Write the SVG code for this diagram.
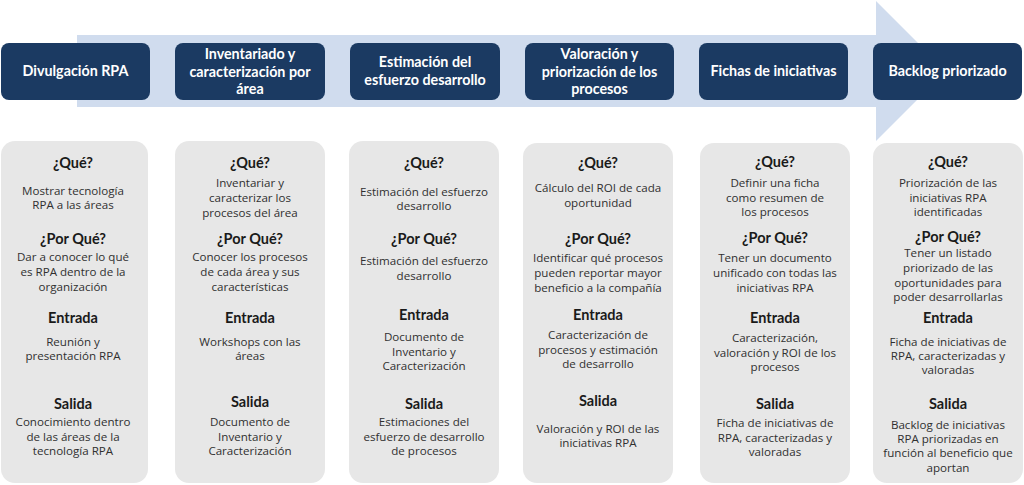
<svg xmlns="http://www.w3.org/2000/svg" width="1024" height="485" viewBox="0 0 1024 485">
<style>
.hdr{fill:#1b3a62}
.card{fill:#e7e7e7}
.ht{font-family:Lato,"Liberation Sans",sans-serif;font-weight:bold;font-size:14.3px;fill:#ffffff;text-anchor:middle}
.h{font-family:Lato,"Liberation Sans",sans-serif;font-weight:bold;font-size:14.5px;fill:#1a1a1a;text-anchor:middle}
.b{font-family:"Open Sans","Liberation Sans",sans-serif;font-size:11.6px;fill:#303030;text-anchor:middle}
</style>
<rect width="1024" height="485" fill="#ffffff"/>
<g id="arrow">
<polygon points="77,35 876,35 876,1 946,71 876,141 876,107 77,107" fill="#d0dcee"/>
</g>
<g id="connectors"></g>
<g id="step1">
<rect class="hdr" x="1" y="43" width="149" height="57" rx="8"/>
<text class="ht" x="75.5" y="76">Divulgación RPA</text>
</g>
<g id="step2">
<rect class="hdr" x="175" y="43" width="150" height="57" rx="8"/>
<text class="ht" x="250" y="59">Inventariado y</text>
<text class="ht" x="250" y="77">caracterización por</text>
<text class="ht" x="250" y="94">área</text>
</g>
<g id="step3">
<rect class="hdr" x="350" y="43" width="150" height="57" rx="8"/>
<text class="ht" x="425" y="67">Estimación del</text>
<text class="ht" x="425" y="85">esfuerzo desarrollo</text>
</g>
<g id="step4">
<rect class="hdr" x="525" y="43" width="149" height="57" rx="8"/>
<text class="ht" x="599.5" y="59">Valoración y</text>
<text class="ht" x="599.5" y="77">priorización de los</text>
<text class="ht" x="599.5" y="94">procesos</text>
</g>
<g id="step5">
<rect class="hdr" x="699" y="43" width="149" height="57" rx="8"/>
<text class="ht" x="773.5" y="76">Fichas de iniciativas</text>
</g>
<g id="step6">
<rect class="hdr" x="873" y="43" width="149" height="57" rx="8"/>
<text class="ht" x="947.5" y="76">Backlog priorizado</text>
</g>
<g id="card1">
<rect class="card" x="1" y="141" width="147" height="342" rx="14"/>
<text class="h" x="73" y="168">¿Qué?</text>
<text class="b" x="73" y="195">Mostrar tecnología</text>
<text class="b" x="73" y="209">RPA a las áreas</text>
<text class="h" x="73" y="244">¿Por Qué?</text>
<text class="b" x="73" y="261">Dar a conocer lo qué</text>
<text class="b" x="73" y="276">es RPA dentro de la</text>
<text class="b" x="73" y="291">organización</text>
<text class="h" x="73" y="323">Entrada</text>
<text class="b" x="73" y="346">Reunión y</text>
<text class="b" x="73" y="360">presentación RPA</text>
<text class="h" x="73" y="409">Salida</text>
<text class="b" x="73" y="426">Conocimiento dentro</text>
<text class="b" x="73" y="441">de las áreas de la</text>
<text class="b" x="73" y="455">tecnología RPA</text>
</g>
<g id="card2">
<rect class="card" x="175" y="141" width="150" height="342" rx="14"/>
<text class="h" x="250" y="168">¿Qué?</text>
<text class="b" x="250" y="187">Inventariar y</text>
<text class="b" x="250" y="202">caracterizar los</text>
<text class="b" x="250" y="217">procesos del área</text>
<text class="h" x="250" y="244">¿Por Qué?</text>
<text class="b" x="250" y="261">Conocer los procesos</text>
<text class="b" x="250" y="276">de cada área y sus</text>
<text class="b" x="250" y="291">características</text>
<text class="h" x="250" y="323">Entrada</text>
<text class="b" x="250" y="346">Workshops con las</text>
<text class="b" x="250" y="360">áreas</text>
<text class="h" x="250" y="407">Salida</text>
<text class="b" x="250" y="426">Documento de</text>
<text class="b" x="250" y="441">Inventario y</text>
<text class="b" x="250" y="455">Caracterización</text>
</g>
<g id="card3">
<rect class="card" x="349" y="141" width="150" height="342" rx="14"/>
<text class="h" x="424" y="168">¿Qué?</text>
<text class="b" x="424" y="196">Estimación del esfuerzo</text>
<text class="b" x="424" y="210">desarrollo</text>
<text class="h" x="424" y="244">¿Por Qué?</text>
<text class="b" x="424" y="265">Estimación del esfuerzo</text>
<text class="b" x="424" y="280">desarrollo</text>
<text class="h" x="424" y="320">Entrada</text>
<text class="b" x="424" y="341">Documento de</text>
<text class="b" x="424" y="356">Inventario y</text>
<text class="b" x="424" y="370">Caracterización</text>
<text class="h" x="424" y="409">Salida</text>
<text class="b" x="424" y="426">Estimaciones del</text>
<text class="b" x="424" y="441">esfuerzo de desarrollo</text>
<text class="b" x="424" y="455">de procesos</text>
</g>
<g id="card4">
<rect class="card" x="523" y="143" width="150" height="340" rx="14"/>
<text class="h" x="598" y="168">¿Qué?</text>
<text class="b" x="598" y="192">Cálculo del ROI de cada</text>
<text class="b" x="598" y="207">oportunidad</text>
<text class="h" x="598" y="244">¿Por Qué?</text>
<text class="b" x="598" y="262">Identificar qué procesos</text>
<text class="b" x="598" y="277">pueden reportar mayor</text>
<text class="b" x="598" y="292">beneficio a la compañía</text>
<text class="h" x="598" y="320">Entrada</text>
<text class="b" x="598" y="339">Caracterización de</text>
<text class="b" x="598" y="354">procesos y estimación</text>
<text class="b" x="598" y="368">de desarrollo</text>
<text class="h" x="598" y="406">Salida</text>
<text class="b" x="598" y="433">Valoración y ROI de las</text>
<text class="b" x="598" y="447">iniciativas RPA</text>
</g>
<g id="card5">
<rect class="card" x="700" y="143" width="150" height="340" rx="14"/>
<text class="h" x="775" y="167">¿Qué?</text>
<text class="b" x="775" y="187">Definir una ficha</text>
<text class="b" x="775" y="202">como resumen de</text>
<text class="b" x="775" y="216">los procesos</text>
<text class="h" x="775" y="243">¿Por Qué?</text>
<text class="b" x="775" y="262">Tener un documento</text>
<text class="b" x="775" y="277">unificado con todas las</text>
<text class="b" x="775" y="292">iniciativas RPA</text>
<text class="h" x="775" y="323">Entrada</text>
<text class="b" x="775" y="342">Caracterización,</text>
<text class="b" x="775" y="357">valoración y ROI de los</text>
<text class="b" x="775" y="371">procesos</text>
<text class="h" x="775" y="409">Salida</text>
<text class="b" x="775" y="427">Ficha de iniciativas de</text>
<text class="b" x="775" y="442">RPA, caracterizadas y</text>
<text class="b" x="775" y="456">valoradas</text>
</g>
<g id="card6">
<rect class="card" x="873" y="143" width="150" height="340" rx="14"/>
<text class="h" x="948" y="167">¿Qué?</text>
<text class="b" x="948" y="187">Priorización de las</text>
<text class="b" x="948" y="202">iniciativas RPA</text>
<text class="b" x="948" y="216">identificadas</text>
<text class="h" x="948" y="242">¿Por Qué?</text>
<text class="b" x="948" y="257">Tener un listado</text>
<text class="b" x="948" y="272">priorizado de las</text>
<text class="b" x="948" y="287">oportunidades para</text>
<text class="b" x="948" y="301">poder desarrollarlas</text>
<text class="h" x="948" y="323">Entrada</text>
<text class="b" x="948" y="346">Ficha de iniciativas de</text>
<text class="b" x="948" y="360">RPA, caracterizadas y</text>
<text class="b" x="948" y="374">valoradas</text>
<text class="h" x="948" y="409">Salida</text>
<text class="b" x="948" y="429">Backlog de iniciativas</text>
<text class="b" x="948" y="443">RPA priorizadas en</text>
<text class="b" x="948" y="457">función al beneficio que</text>
<text class="b" x="948" y="472">aportan</text>
</g>
</svg>
